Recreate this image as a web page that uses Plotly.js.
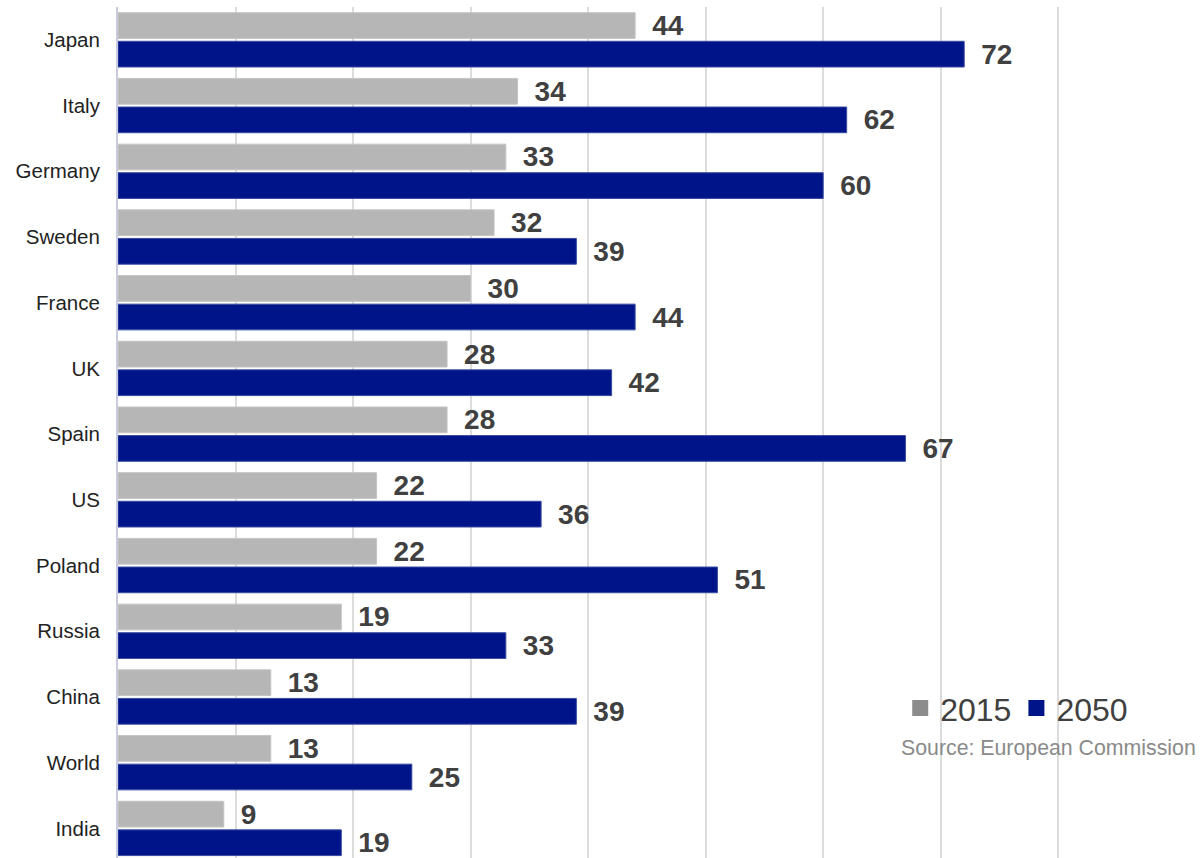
<!DOCTYPE html>
<html>
<head>
<meta charset="utf-8">
<script src="https://cdn.plot.ly/plotly-3.0.1.min.js"></script>
<style>html,body{margin:0;padding:0;background:#fff;}#chart{width:1201px;height:858px;}</style>
</head>
<body>
<div id="chart"></div>
<script>
var countries = ["Japan","Italy","Germany","Sweden","France","UK","Spain","US","Poland","Russia","China","World","India"];
var values2015 = [44,34,33,32,30,28,28,22,22,19,13,13,9];
var values2050 = [72,62,60,39,44,42,67,36,51,33,39,25,19];
var seriesNames = ["2015","2050"];
var sourceText = "Source: European Commission";

var FONT = "Liberation Sans, Arial, Helvetica, sans-serif";
var grey = "#b6b6b6", blue = "#001489";

function barTrace(name, vals, color, lineColor){
  return {
    type: "bar", orientation: "h", name: name,
    x: vals, y: countries,
    marker: {color: color, line: {color: lineColor, width: 1}},
    text: vals.map(String),
    texttemplate: "\u2002%{text}",
    textposition: "outside",
    constraintext: "none",
    cliponaxis: false,
    textfont: {family: FONT, size: 28, color: "#404040", weight: "bold"},
    showlegend: false,
    hoverinfo: "skip"
  };
}

var traces = [
  barTrace(seriesNames[0], values2015, grey, "#c4c4c4"),
  barTrace(seriesNames[1], values2050, blue, "#3a4ba0"),
  {type:"scatter", mode:"markers", name: seriesNames[0], x:[null], y:[null],
   marker:{symbol:"square", size:17, color:"#8c8c8c"}, showlegend:true, hoverinfo:"skip"},
  {type:"scatter", mode:"markers", name: seriesNames[1], x:[null], y:[null],
   marker:{symbol:"square", size:17, color:blue}, showlegend:true, hoverinfo:"skip"}
];

var layout = {
  width: 1201, height: 858,
  margin: {l: 118, r: 84, t: 7, b: 0},
  paper_bgcolor: "#fff", plot_bgcolor: "#fff",
  barmode: "group", bargap: 0.13, bargroupgap: 0.1,
  font: {family: FONT, color: "#222"},
  xaxis: {range: [0, 85], dtick: 10, tick0: 0, showgrid: true, gridcolor: "#dcdcdc", gridwidth: 2,
          showticklabels: false, zeroline: false, showline: false, ticks: ""},
  yaxis: {type: "category", range: [12.45, -0.5], showgrid: false, zeroline: false,
          showline: true, linecolor: "#c8cbe0", linewidth: 2, ticks: "",
          ticklabelstandoff: 12,
          tickfont: {family: FONT, size: 20.5, color: "#222"}},
  showlegend: true,
  legend: {orientation: "h", x: 0.783, xanchor: "left", y: 0.176, yanchor: "middle",
           font: {family: FONT, size: 32, color: "#404040"}, bgcolor: "rgba(0,0,0,0)",
           itemwidth: 30, traceorder: "normal"},
  annotations: [{
    text: sourceText, xref: "paper", yref: "paper", x: 1.081, y: 0.129,
    xanchor: "right", yanchor: "middle", showarrow: false,
    font: {family: FONT, size: 21.3, color: "#8a8a8a"}
  }]
};

Plotly.newPlot("chart", traces, layout, {staticPlot: true, displayModeBar: false});
</script>
</body>
</html>
